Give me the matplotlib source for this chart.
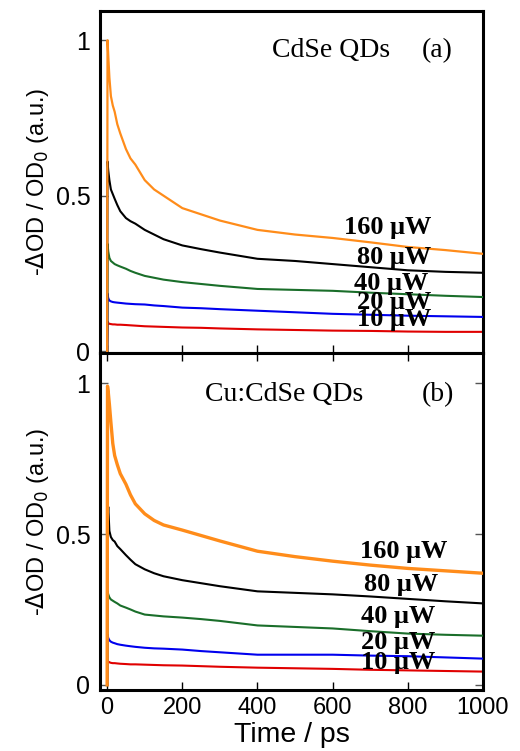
import matplotlib
matplotlib.use("Agg")
import matplotlib.pyplot as plt

# ---------------- data ----------------
time_ps = [0, 1, 3, 6, 10, 15, 20, 27, 35, 50, 62, 75, 100, 125, 150, 200, 250, 300,
           400, 500, 600, 700, 800, 900, 1000]

# (a) CdSe QDs
cdse_160 = [0, 1.0, 0.95, 0.88, 0.82, 0.79, 0.77, 0.73, 0.70, 0.65, 0.62, 0.60, 0.55, 0.52,
            0.50, 0.46, 0.44, 0.42, 0.39, 0.375, 0.364, 0.35, 0.335, 0.325, 0.313]
cdse_80 = [0, 0.61, 0.58, 0.55, 0.52, 0.505, 0.49, 0.47, 0.45, 0.428, 0.418, 0.41, 0.39, 0.375,
           0.36, 0.34, 0.328, 0.317, 0.297, 0.29, 0.28, 0.27, 0.26, 0.255, 0.252]
cdse_40 = [0, 0.345, 0.32, 0.30, 0.29, 0.285, 0.28, 0.276, 0.272, 0.265, 0.258, 0.252, 0.242,
           0.236, 0.23, 0.222, 0.216, 0.21, 0.20, 0.197, 0.194, 0.188, 0.183, 0.178, 0.174]
cdse_20 = [0, 0.185, 0.17, 0.163, 0.16, 0.158, 0.157, 0.156, 0.155, 0.153, 0.152, 0.151, 0.15,
           0.147, 0.145, 0.14, 0.138, 0.135, 0.13, 0.125, 0.12, 0.117, 0.114, 0.112, 0.11]
cdse_10 = [0, 0.095, 0.09, 0.088, 0.087, 0.086, 0.086, 0.085, 0.085, 0.084, 0.083, 0.082, 0.08,
           0.079, 0.078, 0.076, 0.075, 0.073, 0.07, 0.068, 0.066, 0.065, 0.063, 0.062, 0.062]

# (b) Cu:CdSe QDs
cucdse_160 = [0, 0.99, 0.97, 0.93, 0.87, 0.80, 0.76, 0.73, 0.70, 0.665, 0.63, 0.60, 0.567, 0.545,
              0.53, 0.513, 0.495, 0.477, 0.443, 0.425, 0.41, 0.397, 0.386, 0.378, 0.37]
cucdse_80 = [0, 0.55, 0.59, 0.51, 0.49, 0.48, 0.475, 0.46, 0.45, 0.43, 0.415, 0.40, 0.383, 0.37,
             0.36, 0.347, 0.337, 0.327, 0.31, 0.305, 0.30, 0.293, 0.285, 0.277, 0.27]
cucdse_40 = [0, 0.31, 0.30, 0.29, 0.283, 0.279, 0.275, 0.27, 0.263, 0.256, 0.25, 0.243, 0.233,
             0.23, 0.227, 0.223, 0.218, 0.212, 0.197, 0.192, 0.187, 0.178, 0.17, 0.166, 0.163]
cucdse_20 = [0, 0.167, 0.155, 0.148, 0.143, 0.14, 0.138, 0.135, 0.133, 0.13, 0.128, 0.126, 0.123,
             0.121, 0.12, 0.117, 0.112, 0.108, 0.1, 0.1, 0.1, 0.097, 0.095, 0.091, 0.087]
cucdse_10 = [0, 0.08, 0.077, 0.075, 0.073, 0.072, 0.072, 0.071, 0.07, 0.069, 0.068, 0.068, 0.067,
             0.066, 0.065, 0.064, 0.062, 0.06, 0.057, 0.055, 0.053, 0.05, 0.048, 0.046, 0.044]

powers = ["10 \u03bcW", "20 \u03bcW", "40 \u03bcW", "80 \u03bcW", "160 \u03bcW"]
colors = ["#e00000", "#0000ee", "#1a6e2a", "#000000", "#ff8c1a"]

# label anchor positions (data coords)
label_pos_a = [(763, 0.103), (763, 0.155), (755, 0.219), (763, 0.30), (747, 0.397)]
label_pos_b = [(773, 0.073), (773, 0.14), (773, 0.227), (781, 0.333), (789, 0.443)]

xticks = [0, 200, 400, 600, 800, 1000]
yticks = [0, 0.5, 1]
ytick_labels = ["0", "0.5", "1"]

# ---------------- figure ----------------
W, H = 520, 751
fig = plt.figure(figsize=(W / 100, H / 100), dpi=100)

left = 100 / W
width = (483 - 100) / W
ax_a = fig.add_axes([left, 1 - 353 / H, width, (353 - 11) / H])
ax_b = fig.add_axes([left, 1 - 690 / H, width, (690 - 353) / H])

sans = "Liberation Sans"
serif = "Liberation Serif"

series_a = [cdse_10, cdse_20, cdse_40, cdse_80, cdse_160]
series_b = [cucdse_10, cucdse_20, cucdse_40, cucdse_80, cucdse_160]

for ax, series, lpos, ylim, lw_top in [
    (ax_a, series_a, label_pos_a, (-0.006, 1.094), 1.6),
    (ax_b, series_b, label_pos_b, (-0.017, 1.10), 2.4),
]:
    for i, (vals, col) in enumerate(zip(series, colors)):
        lw = lw_top if i == 4 else 1.5
        ax.plot(time_ps, vals, color=col, lw=lw, zorder=2 + i)
    for (tx, ty), lab in zip(lpos, powers):
        ax.text(tx, ty, lab, ha="center", va="center", fontsize=19,
                fontweight="bold", family=serif, zorder=10)
    ax.set_xlim(-19, 1000)
    ax.set_ylim(*ylim)
    ax.set_yticks(yticks)
    ax.set_yticklabels(ytick_labels, family=sans, fontsize=18)
    ax.set_xticks(xticks)
    for s in ax.spines.values():
        s.set_linewidth(2.2)
    ax.set_ylabel(r"-$\Delta$OD / OD$_0$ (a.u.)", fontsize=17, family=sans, labelpad=3)

ax_a.text(0.45, 0.885, "CdSe QDs", transform=ax_a.transAxes, fontsize=20,
          family=serif, ha="left", va="center")
ax_a.text(0.84, 0.885, "(a)", transform=ax_a.transAxes, fontsize=20,
          family=serif, ha="left", va="center")
ax_b.text(0.275, 0.878, "Cu:CdSe QDs", transform=ax_b.transAxes, fontsize=20,
          family=serif, ha="left", va="center")
ax_b.text(0.84, 0.878, "(b)", transform=ax_b.transAxes, fontsize=20,
          family=serif, ha="left", va="center")

ax_a.tick_params(axis="x", direction="in", length=6, width=1, labelbottom=False)
ax_a.tick_params(axis="y", direction="in", length=6, width=1, pad=7, color="#555555")
ax_b.tick_params(axis="x", direction="in", length=6, width=1, top=True, pad=5)
ax_b.tick_params(axis="y", direction="in", length=6, width=1, right=True, pad=7, color="#555555")
for lab in ax_b.get_xticklabels():
    lab.set_family(sans)
    lab.set_fontsize(17)

ax_b.set_xlabel("Time / ps", fontsize=20.5, family=sans, labelpad=2)

fig.savefig("out.png", dpi=100)
